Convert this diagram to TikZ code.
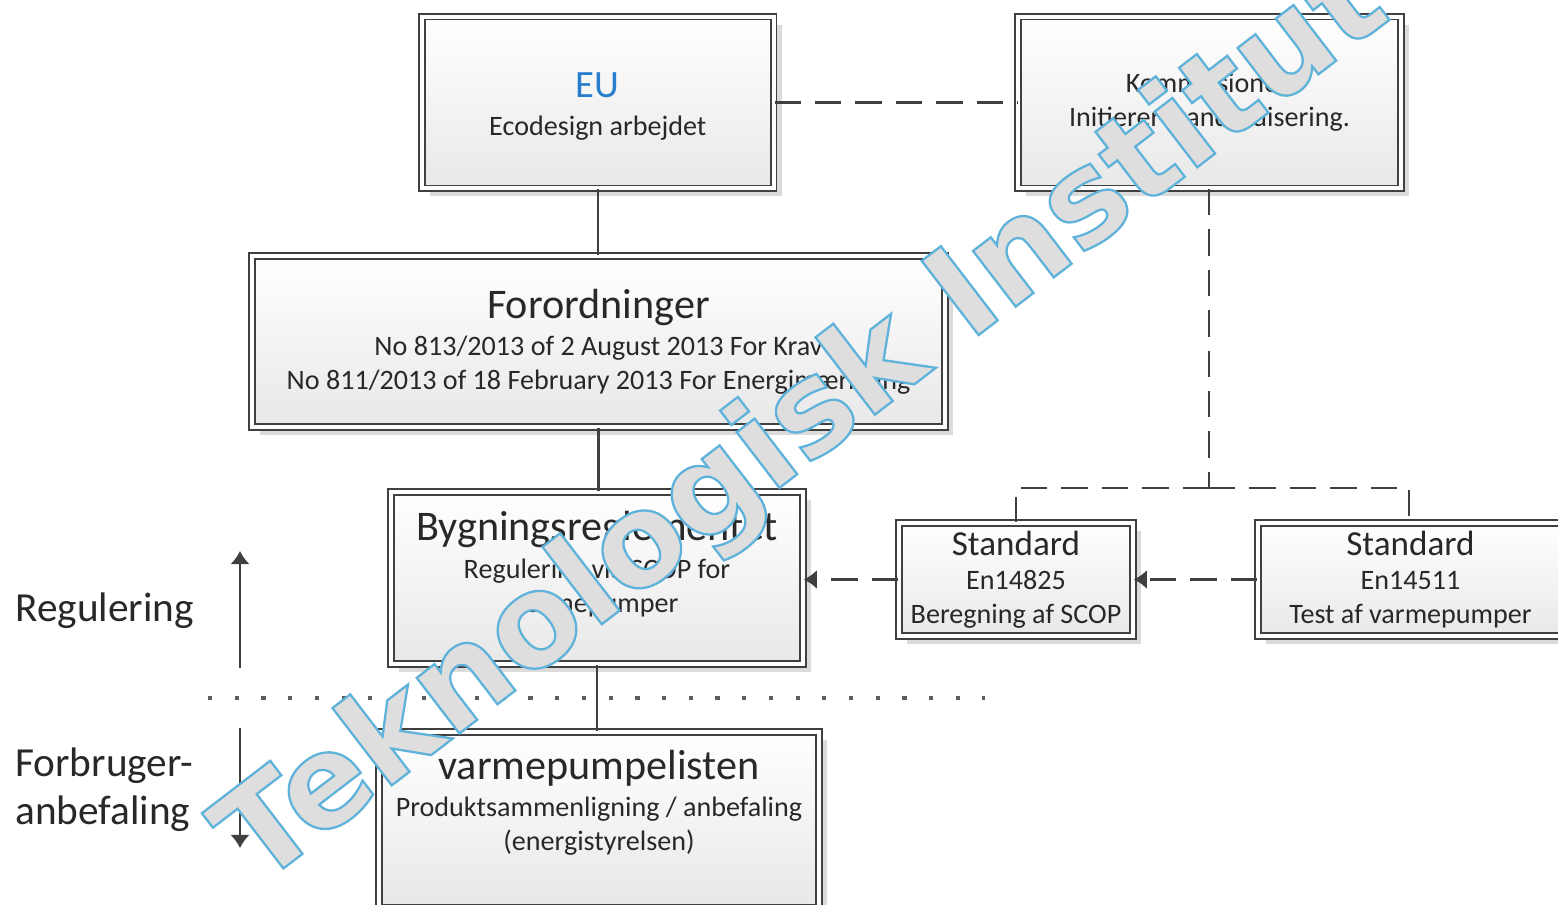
\documentclass[tikz,border=0pt]{standalone}
\usepackage{fontspec}
\setmainfont{Carlito}
\newfontfamily\wmfont{DejaVu Sans}
\usetikzlibrary{arrows.meta}
\usetikzlibrary{shadows}
\usetikzlibrary{calc}
\tikzset{>=latex}
\definecolor{linegray}{RGB}{64,64,64}
\definecolor{textgray}{RGB}{40,40,40}
\definecolor{eublue}{RGB}{40,125,205}
\definecolor{wmblue}{RGB}{95,178,218}
\definecolor{wmfill}{RGB}{222,222,222}
\newcommand{\boxtitle}{\fontsize{24}{28}\selectfont}
\newcommand{\stdtitle}{\fontsize{20}{24}\selectfont}
\newcommand{\eutitle}{\fontsize{22}{26}\selectfont}
\newcommand{\wmrender}[1]{{\color{wmfill}\special{pdf:literal direct 2 Tr 1.3 w 0.373 0.698 0.855 RG}#1\special{pdf:literal direct 0 Tr}}}
\tikzstyle{orgbox}=[draw=linegray, line width=0.9pt, double=white, double distance=2.4pt,
  top color=white, bottom color=black!9, drop shadow={shadow xshift=4.5pt, shadow yshift=-4.5pt, opacity=0.14, fill=black},
  align=center, inner sep=0pt, text=textgray, font=\fontsize{16}{19.4}\selectfont]
\tikzstyle{solidline}=[draw=linegray, line width=1.2pt]
\tikzstyle{dashline}=[draw=linegray, line width=1.4pt, dash pattern=on 15pt off 8pt]
\tikzstyle{dotline}=[draw=linegray!85, line width=2.4pt, dash pattern=on 2.4pt off 12.8pt]
\tikzstyle{sidearrow}=[draw=linegray, line width=1pt, -{Latex[length=7.5pt,width=11pt]}]
\tikzstyle{sidelabel}=[text=textgray, inner sep=0pt, align=left, font=\fontsize{23.5}{27.2}\selectfont]
\tikzstyle{wmtext}=[inner sep=0pt, font=\wmfont\bfseries\fontsize{73}{73}\selectfont]

\begin{document}
\begin{tikzpicture}[x=0.02cm, y=-0.02cm]
  \useasboundingbox (0,0) rectangle (1558,905);

  % boxes
  \node[orgbox, minimum width=7.04cm, minimum height=3.43cm] (eu) at (597.8,102.5)
    {{\eutitle\color{eublue}\rule{0pt}{18.5pt}EU}\\[2.3pt] Ecodesign arbejdet};
  \node[orgbox, minimum width=7.66cm, minimum height=3.43cm] (komm) at (1209.5,102.5)
    {Kommissionen\\ Initierer standardisering.};
  \node[orgbox, minimum width=13.86cm, minimum height=3.42cm] (foro) at (598.5,341.5)
    {{\boxtitle Forordninger}\\[1.8pt] No 813/2013 of 2 August 2013 For Krav\\ No 811/2013 of 18 February 2013 For Energimærkning};
  \node[orgbox, minimum width=8.24cm, minimum height=3.44cm] (byg) at (597,578)
    {{\boxtitle Bygningsreglementet}\\[2pt] Regulering via SCOP for\\ varmepumper\rule[-18.4pt]{0pt}{0pt}};
  \node[orgbox, minimum width=4.68cm, minimum height=2.26cm] (std1) at (1016,579.5)
    {{\stdtitle Standard}\\ En14825\\ Beregning af SCOP};
  \node[orgbox, minimum width=6.1cm, minimum height=2.26cm] (std2) at (1410.5,579.5)
    {{\stdtitle Standard}\\ En14511\\ Test af varmepumper};
  \node[orgbox, minimum width=8.8cm, minimum height=3.52cm] (varme) at (599,820)
    {{\boxtitle varmepumpelisten}\\[1.8pt] Produktsammenligning / anbefaling\\ (energistyrelsen)\rule[-22.7pt]{0pt}{0pt}};

  % connectors
  \draw[solidline] (eu.south) -- (eu.south |- foro.north);
  \draw[solidline] (foro.south) -- (foro.south |- byg.north);
  \draw[solidline] (byg.south) -- (byg.south |- varme.north);
  \draw[dashline] (eu.east |- komm.west) -- (komm.west);

  \coordinate (split) at (1209,488);
  \draw[dashline] (komm.south -| split) -- (split);
  \draw[dashline] (split) -| (std1.north);
  \draw[dashline] (split) -| ($(std2.north)+(-1.5,0)$);
  \draw[dashline, -{Latex[length=7.5pt,width=11pt]}] (std1.west) -- (std1.west -| byg.east);
  \draw[dashline, -{Latex[length=7.5pt,width=11pt]}] (std2.west) -- (std2.west -| std1.east);

  % side labels
  \coordinate (divleft) at (208,698);
  \coordinate (divright) at (985,698);
  \draw[dotline] (divleft) -- (divright);

  \coordinate (regbot) at (240,668);
  \coordinate (regtop) at (240,551);
  \coordinate (forbtop) at (240,728);
  \coordinate (forbbot) at (240,848);
  \draw[sidearrow] (regbot) -- (regtop);
  \draw[sidearrow] (forbtop) -- (forbbot);

  \node[sidelabel, anchor=base west] (reg) at (15,621) {Regulering};
  \node[sidelabel, anchor=west] (forb) at (15,790) {Forbruger-\\anbefaling};

  % watermark
  \node[wmtext, rotate=37.5, anchor=base west] (wm) at (258,888) {\wmrender{Teknologisk Institut}};
\end{tikzpicture}
\end{document}
